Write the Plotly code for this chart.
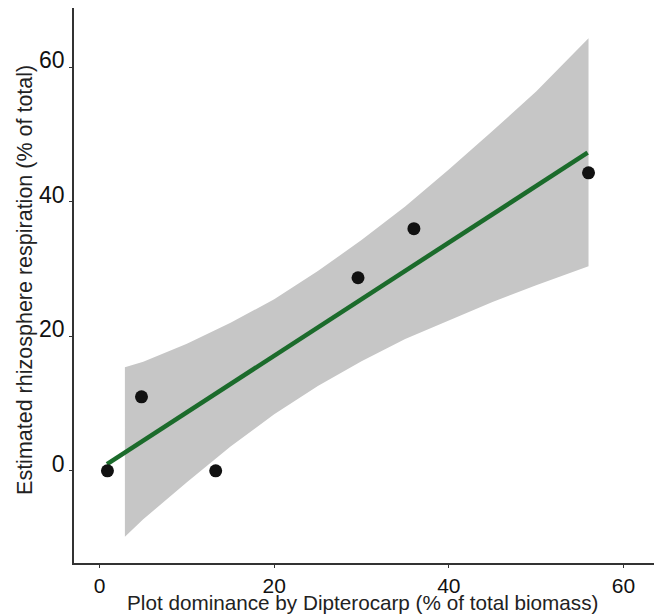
import plotly.graph_objects as go

# Observed data points
dominance = [0.9, 4.8, 13.3, 29.6, 36.0, 56.0]
respiration = [0.0, 11.0, 0.0, 28.7, 36.0, 44.3]

# Fitted line endpoints
fit_x = [0.85, 55.9]
fit_y = [1.0, 47.3]

# Confidence band
band_x = [2.9, 5, 10, 15, 20, 25, 30, 35, 40, 45, 50, 56.0]
band_upper = [15.4, 16.2, 18.9, 22.0, 25.5, 29.7, 34.3, 39.3, 44.8, 50.5, 56.4, 64.3]
band_lower = [-9.8, -7.2, -1.7, 3.6, 8.4, 12.6, 16.3, 19.6, 22.4, 25.1, 27.6, 30.4]

x_ticks = [0, 20, 40, 60]
y_ticks = [0, 20, 40, 60]

x_title = "Plot dominance by Dipterocarp (% of total biomass)"
y_title = "Estimated rhizosphere respiration (% of total)"

FONT = "Liberation Sans, Arial, sans-serif"

fig = go.Figure()

fig.add_trace(go.Scatter(
    x=band_x + band_x[::-1],
    y=band_upper + band_lower[::-1],
    fill="toself",
    fillcolor="#c6c6c6",
    line=dict(width=0),
    mode="lines",
    hoverinfo="skip",
    showlegend=False,
))

fig.add_trace(go.Scatter(
    x=fit_x, y=fit_y,
    mode="lines",
    line=dict(color="#1b6b2b", width=4.5),
    showlegend=False,
))

fig.add_trace(go.Scatter(
    x=dominance, y=respiration,
    mode="markers",
    marker=dict(color="#111111", size=13),
    showlegend=False,
))

axis_common = dict(
    showgrid=False,
    zeroline=False,
    showline=True,
    linecolor="#333333",
    linewidth=1.5,
    ticks="outside",
    ticklen=3,
    tickwidth=1,
    tickcolor="#333333",
    automargin=False,
)

fig.update_layout(
    width=654,
    height=614,
    margin=dict(l=74, r=0, t=8, b=51),
    paper_bgcolor="white",
    plot_bgcolor="white",
    xaxis=dict(
        range=[-2.93, 63.5],
        tickvals=x_ticks,
        ticktext=[str(v) for v in x_ticks],
        tickfont=dict(family=FONT, size=21, color="#111111"),
        **axis_common,
    ),
    yaxis=dict(
        range=[-13.7, 68.8],
        tickvals=y_ticks,
        ticktext=[str(v) for v in y_ticks],
        ticklabelshift=-7,
        tickfont=dict(family=FONT, size=23, color="#111111"),
        **axis_common,
    ),
    annotations=[
        dict(text=x_title, xref="paper", yref="paper", x=0.498, y=0,
             xanchor="center", yanchor="middle", yshift=-39, showarrow=False,
             font=dict(family=FONT, size=20.7, color="#222222")),
        dict(text=y_title, xref="paper", yref="paper", x=0, y=0.51,
             xanchor="center", yanchor="middle", xshift=-49, textangle=-90,
             showarrow=False,
             font=dict(family=FONT, size=21.5, color="#222222")),
    ],
)

fig.write_html("out.html", config={"displayModeBar": False},
               post_script="document.body.style.margin='0';")
